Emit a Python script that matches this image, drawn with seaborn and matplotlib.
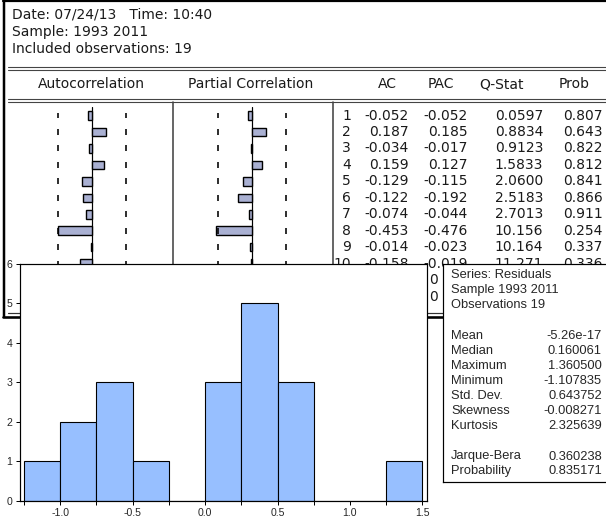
import matplotlib
matplotlib.use("Agg")
import matplotlib.pyplot as plt
import seaborn as sns
import numpy as np

# ---------------- data ----------------
header_lines = ["Date: 07/24/13   Time: 10:40", "Sample: 1993 2011", "Included observations: 19"]
col_titles = ["Autocorrelation", "Partial Correlation", "AC", "PAC", "Q-Stat", "Prob"]
lags = [1, 2, 3, 4, 5, 6, 7, 8, 9, 10]
ac = [-0.052, 0.187, -0.034, 0.159, -0.129, -0.122, -0.074, -0.453, -0.014, -0.158]
pac = [-0.052, 0.185, -0.017, 0.127, -0.115, -0.192, -0.044, -0.476, -0.023, -0.019]
qstat = [0.0597, 0.8834, 0.9123, 1.5833, 2.0600, 2.5183, 2.7013, 10.156, 10.164, 11.271]
prob = [0.807, 0.643, 0.822, 0.812, 0.841, 0.866, 0.911, 0.254, 0.337, 0.336]
pac_hidden_prefix = ["0", "0"]            # lags 11-12: only the first character is visible
conf_band = 0.459                         # 2/sqrt(19)

hist_edges = [-1.25, -1.0, -0.75, -0.5, -0.25, 0.0, 0.25, 0.5, 0.75, 1.0, 1.25, 1.5]
hist_counts = [1, 2, 3, 1, 0, 3, 5, 3, 0, 0, 1]
hist_xticks = [-1.0, -0.5, 0.0, 0.5, 1.0, 1.5]
hist_yticks = [0, 1, 2, 3, 4, 5, 6]

stats_header = ["Series: Residuals", "Sample 1993 2011", "Observations 19"]
stat_names = ["Mean", "Median", "Maximum", "Minimum", "Std. Dev.", "Skewness", "Kurtosis"]
stat_values = ["-5.26e-17", "0.160061", "1.360500", "-1.107835", "0.643752", "-0.008271", "2.325639"]
test_names = ["Jarque-Bera", "Probability"]
test_values = ["0.360238", "0.835171"]

# ---------------- style ----------------
sns.set_style("white")
plt.rcParams["font.family"] = ["DejaVu Sans"]
W, H = 606, 521
fig = plt.figure(figsize=(W / 100, H / 100), dpi=100)
fig.patch.set_facecolor("white")
PT = 72 / 100  # points per pixel


def px_axes(x0, y0, x1, y1, z):
    ax = fig.add_axes([x0 / W, 1 - y1 / H, (x1 - x0) / W, (y1 - y0) / H])
    ax.set_zorder(z)
    return ax


# ---------- correlogram window (background) ----------
bg = px_axes(0, 0, W, H, 0)
bg.set_xlim(0, W)
bg.set_ylim(H, 0)
bg.axis("off")
bg.plot([4, 4], [0, 318], color="black", lw=2.5 * PT, solid_capstyle="butt")
bg.plot([3, W], [1.2, 1.2], color="black", lw=2.2 * PT)
bg.plot([3, W], [317.3, 317.3], color="black", lw=2.6 * PT)
bg.plot([8, W], [312.6, 312.6], color="#333333", lw=1.2 * PT)
for y in (66.6, 69.6, 98.6, 101.6):
    bg.plot([8, W], [y, y], color="#444444", lw=1.1 * PT)
for x in (173, 333):
    bg.plot([x, x], [101.6, 312.6], color="#444444", lw=1.6 * PT)

text_fs = 10.0
tcol = "#1a1a1a"
for i, line in enumerate(header_lines):
    bg.text(12, 15 + 17 * i, line, fontsize=text_fs, va="center", ha="left", color=tcol)

title_x = [91, 251, 387, 441, 501, 574]
for t, x in zip(col_titles, title_x):
    bg.text(x, 84, t, fontsize=text_fs, va="center", ha="center", color=tcol)

row_y0, row_dy = 115.5, 16.46
col_right = [351, 409, 468, 543, 603]
for i, lag in enumerate(lags):
    y = row_y0 + row_dy * i
    q = qstat[i]
    cells = [str(lag), f"{ac[i]:.3f}", f"{pac[i]:.3f}",
             f"{q:.4f}" if q < 10 else f"{q:.3f}", f"{prob[i]:.3f}"]
    for c, x in zip(cells, col_right):
        bg.text(x, y, c, fontsize=text_fs, va="center", ha="right", color=tcol)

# lags 11-12 of the PAC column: place the visible prefix where a "0.xxx" cell would start
fig.canvas.draw()
rend = fig.canvas.get_renderer()
probe = bg.text(col_right[2], 0, "0.000", fontsize=text_fs, ha="right", va="center")
ext = probe.get_window_extent(renderer=rend)
probe.remove()
x_start = bg.transData.inverted().transform((ext.x0, 0))[0]
for j, pre in enumerate(pac_hidden_prefix):
    y = row_y0 + row_dy * (len(lags) + j)
    bg.text(x_start, y, pre, fontsize=text_fs, va="center", ha="left", color=tcol)

# ---------- ACF / PACF bars ----------
bar_color = "#a9b0d2"
n_rows = 12
for vals, (x0, x1) in ((ac, (17, 167)), (pac, (177, 327))):
    ax = px_axes(x0, 101.6, x1, 312.6, 1)
    ax.patch.set_alpha(0)
    sns.barplot(x=vals, y=lags, orient="h", ax=ax, color=bar_color, saturation=1,
                edgecolor="black", linewidth=1.4 * PT, width=0.52, errorbar=None)
    ax.set_xlim(-1, 1)
    ax.set_ylim((312.6 - row_y0) / row_dy, (101.6 - row_y0) / row_dy)
    ax.plot([0, 0], [-0.52, n_rows], color="black", lw=1.2 * PT, zorder=0.5)
    for i in range(n_rows):
        ax.vlines([-conf_band, conf_band], i - 0.18, i + 0.18, color="black", lw=1.6 * PT)
    ax.axis("off")

# ---------- histogram window ----------
hx = px_axes(20, 263.5, 427, 501, 3)
hx.set_facecolor("white")
centers = [(a + b) / 2 for a, b in zip(hist_edges[:-1], hist_edges[1:])]
sns.histplot(x=centers, weights=hist_counts, bins=hist_edges, ax=hx, color="#97bfff",
             edgecolor="black", linewidth=1.1 * PT, alpha=1)
hx.set_xlim(-1.278, 1.532)
hx.set_ylim(0, 6)
hx.set_xlabel("")
hx.set_ylabel("")
hx.set_xticks(hist_xticks)
hx.set_xticklabels([f"{v:.1f}" for v in hist_xticks])
hx.set_xticks(hist_edges, minor=True)
hx.set_yticks(hist_yticks)
hx.set_yticklabels([str(v) for v in hist_yticks])
for s in hx.spines.values():
    s.set_visible(True)
    s.set_color("black")
    s.set_linewidth(1.2 * PT)
hx.tick_params(axis="both", which="both", direction="out", length=4 * PT, width=1 * PT,
               color="black", labelsize=7.6, pad=2.5, bottom=True, left=True)
for lab in hx.get_xticklabels() + hx.get_yticklabels():
    lab.set_family("Liberation Sans")
hx.grid(False)

# ---------- statistics box ----------
sx = px_axes(443, 263.5, 607, 482, 3)
sx.set_facecolor("white")
sx.set_xlim(443, 607)
sx.set_ylim(482, 263.5)
sx.set_xticks([])
sx.set_yticks([])
for k, s in sx.spines.items():
    s.set_color("black")
    s.set_linewidth(1.2 * PT)
sx.spines["right"].set_visible(False)
sfs = 9.3
sfam = "Liberation Sans"
for i, t in enumerate(stats_header):
    sx.text(451, 275.5 + 15 * i, t, fontsize=sfs, family=sfam, va="center", ha="left")
for i, (n, v) in enumerate(zip(stat_names, stat_values)):
    y = 335.8 + 15 * i
    sx.text(451, y, n, fontsize=sfs, family=sfam, va="center", ha="left")
    sx.text(602, y, v, fontsize=sfs, family=sfam, va="center", ha="right")
for i, (n, v) in enumerate(zip(test_names, test_values)):
    y = 456.5 + 14.6 * i
    sx.text(451, y, n, fontsize=sfs, family=sfam, va="center", ha="left")
    sx.text(602, y, v, fontsize=sfs, family=sfam, va="center", ha="right")

fig.savefig("out.png", dpi=100)
